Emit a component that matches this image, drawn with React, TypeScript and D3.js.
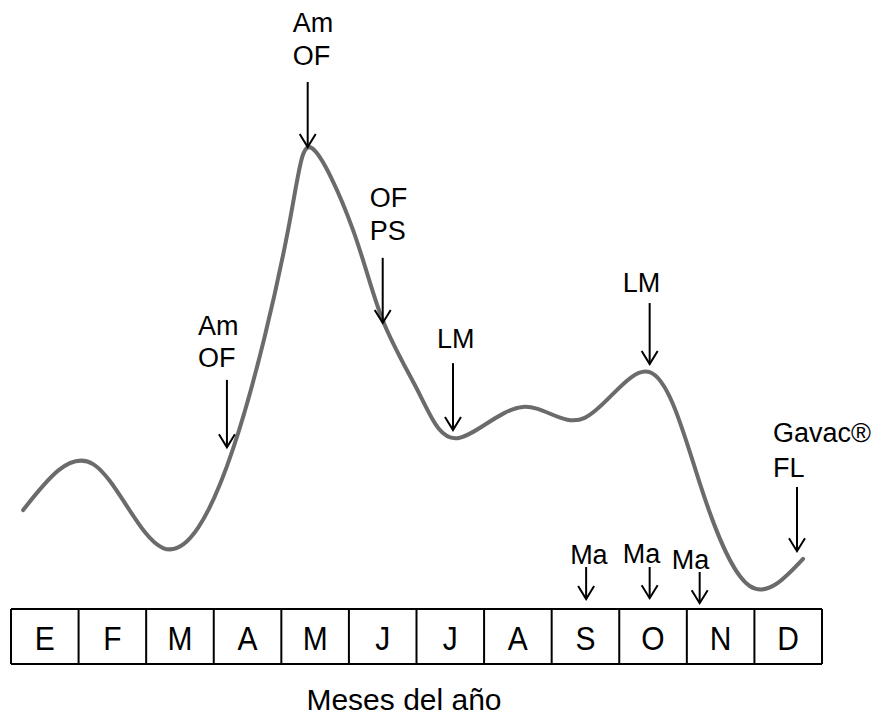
import React from "react";
import * as d3 from "d3";

// Month labels (Spanish initials)
const months = ["E", "F", "M", "A", "M", "J", "J", "A", "S", "O", "N", "D"];

// Curve: position in months (0..12) and relative level (0..100)
const curveMonth = [0.18, 1.22, 2.25, 3.28, 4.1, 4.45, 5.06, 5.5, 6.05, 6.61, 7.57, 8.49, 9.45, 10.19, 10.93, 11.72];
const curveLevel = [19.9, 30.0, 11.5, 33.2, 81.9, 100, 81.9, 61.9, 45.4, 35.8, 42.7, 40.3, 50.4, 25.9, 3.1, 9.1];

// Annotations: label lines, arrow month position, arrow start/end level
const annLabels = [["Am", "OF"], ["Am", "OF"], ["OF", "PS"], ["LM"], ["LM"], ["Gavac®", "FL"], ["Ma"], ["Ma"], ["Ma"]];
const annMonth = [3.195, 4.39, 5.5, 6.54, 9.45, 11.63, 8.51, 9.45, 10.19];
const annFrom = [48.7, 114.6, 75.7, 52.4, 65.7, 25.0, 7.3, 7.3, 6.2];
const annTo = [33.8, 100.2, 61.3, 37.6, 52.2, 10.8, 0.2, 0.4, -0.7];

const axisTitle = "Meses del año";

// layout (pixel offsets of label blocks relative to arrow top)
const labelDx = [-29, -15, -13, -16, -27, -24, -16, -27, -28];
const labelDy = [-45, -50, -51, -15, -11, -45, -3, -4, -3];
const lineGap = [32, 33, 33, 0, 0, 35, 0, 0, 0];

const W = 874;
const H = 719;
const boxTop = 609;
const boxBottom = 664;

export default function App() {
  const x = d3.scaleLinear().domain([0, 12]).range([11, 822]);
  const y = d3.scaleLinear().domain([0, 100]).range([600, 148]);

  const pts: [number, number][] = curveMonth.map((m, i) => [m, curveLevel[i]]);
  const line = d3
    .line<[number, number]>()
    .x((d) => x(d[0]))
    .y((d) => y(d[1]))
    .curve(d3.curveNatural);

  const font = "'Liberation Sans', Arial, sans-serif";

  return (
    <svg
      width={W}
      height={H}
      viewBox={`0 0 ${W} ${H}`}
      style={{ position: "absolute", left: 0, top: 0, background: "#fff" }}
      fontFamily={font}
    >
      <rect x={0} y={0} width={W} height={H} fill="#fff" />
      <path d={line(pts) || ""} fill="none" stroke="#6b6b6b" strokeWidth={4} strokeLinecap="round" strokeLinejoin="round" />

      {annLabels.map((lines, i) => {
        const ax = x(annMonth[i]);
        const y0 = y(annFrom[i]);
        const y1 = y(annTo[i]);
        const head = 8;
        const headLen = 13;
        return (
          <g key={i}>
            <line x1={ax} x2={ax} y1={y0} y2={y1} stroke="#000" strokeWidth={2} />
            <polyline
              points={`${ax - head},${y1 - headLen} ${ax},${y1} ${ax + head},${y1 - headLen}`}
              fill="none"
              stroke="#000"
              strokeWidth={2}
            />
            {lines.map((t, j) => (
              <text
                key={j}
                x={ax + labelDx[i]}
                y={y0 + labelDy[i] + j * lineGap[i]}
                fontSize={27}
                fill="#000"
              >
                {t}
              </text>
            ))}
          </g>
        );
      })}

      {/* month boxes */}
      <g>
        <line x1={x(0)} x2={x(12)} y1={boxTop} y2={boxTop} stroke="#000" strokeWidth={2} />
        <line x1={x(0)} x2={x(12)} y1={boxBottom} y2={boxBottom} stroke="#000" strokeWidth={2} />
        {d3.range(13).map((i) => (
          <line key={i} x1={x(i)} x2={x(i)} y1={boxTop} y2={boxBottom} stroke="#000" strokeWidth={2} />
        ))}
        {months.map((m, i) => (
          <text
            key={i}
            x={x(i + 0.5)}
            y={650}
            textAnchor="middle"
            fontSize={30}
            fill="#000"
            transform={`translate(${x(i + 0.5)},650) scale(1,1.12) translate(${-x(i + 0.5)},-650)`}
          >
            {m}
          </text>
        ))}
      </g>

      <text x={404} y={710} textAnchor="middle" fontSize={30} fill="#000">
        {axisTitle}
      </text>
    </svg>
  );
}
